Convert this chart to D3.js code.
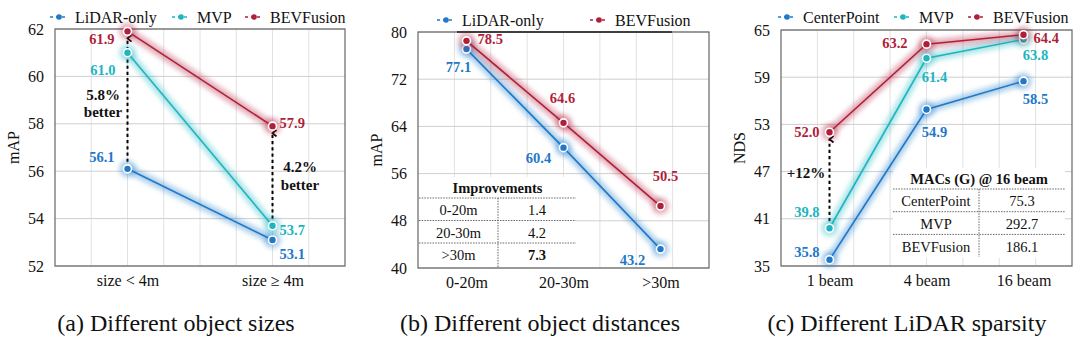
<!DOCTYPE html>
<html>
<head>
<meta charset="utf-8">
<script src="https://cdn.jsdelivr.net/npm/d3@7"></script>
<style>
  body { margin: 0; background: #fff; }
  svg text { font-family: "Liberation Serif", Tinos, "Times New Roman", "DejaVu Serif", serif !important; }
</style>
</head>
<body>
<script>
// --- values ---------------------------------------------------------------
const sizeCats = ["size < 4m", "size \u2265 4m"];
const sizeLidar = [56.1, 53.1];
const sizeMvp = [61.0, 53.7];
const sizeBev = [61.9, 57.9];
const sizeTicks = [52, 54, 56, 58, 60, 62];

const distCats = ["0-20m", "20-30m", ">30m"];
const distLidar = [77.1, 60.4, 43.2];
const distBev = [78.5, 64.6, 50.5];
const distTicks = [40, 48, 56, 64, 72, 80];

const beamCats = ["1 beam", "4 beam", "16 beam"];
const beamCenter = [35.8, 54.9, 58.5];
const beamMvp = [39.8, 61.4, 63.8];
const beamBev = [52.0, 63.2, 64.4];
const beamTicks = [35, 41, 47, 53, 59, 65];

const improvementRows = [["0-20m", "1.4"], ["20-30m", "4.2"], [">30m", "7.3"]];
const macsRows = [["CenterPoint", "75.3"], ["MVP", "292.7"], ["BEVFusion", "186.1"]];

const BLUE = "#1f78c8", TEAL = "#1cb5c0", RED = "#b01f3a";
const SERIF = "'Liberation Serif', Tinos, 'Times New Roman', 'DejaVu Serif', serif";

const width = 1080, height = 345;
const svg = d3.select("body").append("svg")
  .attr("width", width)
  .attr("height", height)
  .attr("font-family", SERIF);

const defs = svg.append("defs");
defs.append("filter").attr("id", "glow")
  .attr("x", "-20%").attr("y", "-20%").attr("width", "140%").attr("height", "140%")
  .append("feGaussianBlur").attr("stdDeviation", 2.6);
defs.append("marker").attr("id", "chev")
  .attr("viewBox", "0 0 10 10").attr("refX", 5).attr("refY", 2)
  .attr("markerWidth", 8).attr("markerHeight", 8)
  .attr("markerUnits", "userSpaceOnUse")
  .attr("orient", "auto-start-reverse")
  .append("path").attr("d", "M1,7 L5,2 L9,7")
  .attr("fill", "none").attr("stroke", "#000").attr("stroke-width", 2.2);

// label offsets: [dx, dy, anchor] per point
function drawPanel(p) {
  const x = d3.scaleLinear().domain(p.xDomain).range([p.left, p.right]);
  const y = d3.scaleLinear().domain([p.ticks[0], p.ticks[p.ticks.length - 1]])
    .range([p.bottom, p.top]);
  const g = svg.append("g");

  // grid
  const vg = d3.range(1, 8).map(k => p.left + (p.right - p.left) * k / 8);
  g.selectAll(".vg").data(vg).join("line")
    .attr("x1", d => d).attr("x2", d => d)
    .attr("y1", p.top).attr("y2", p.bottom)
    .attr("stroke", "#e2e2e2").attr("stroke-width", 1);
  g.selectAll(".hg").data(p.ticks).join("line")
    .attr("x1", p.left).attr("x2", p.right)
    .attr("y1", d => y(d)).attr("y2", d => y(d))
    .attr("stroke", "#cfcfcf").attr("stroke-width", 1);

  // inset table sits under the lines
  if (p.table) drawTable(g, p.table);

  g.append("rect")
    .attr("x", p.left).attr("y", p.top)
    .attr("width", p.right - p.left).attr("height", p.bottom - p.top)
    .attr("fill", "none").attr("stroke", "#666").attr("stroke-width", 1.2);

  // axes
  const ya = g.append("g").attr("transform", `translate(${p.left},0)`)
    .call(d3.axisLeft(y).tickValues(p.ticks).tickSize(0).tickPadding(11));
  ya.attr("font-family", SERIF).select(".domain").remove();
  ya.selectAll("text").attr("font-size", 16).attr("fill", "#111");

  const pos = p.cats.map((c, i) => p.xAt(i));
  const xa = g.append("g").attr("transform", `translate(0,${p.bottom})`)
    .call(d3.axisBottom(x).tickValues(pos).tickFormat((d, i) => p.cats[i])
      .tickSize(0).tickPadding(9));
  xa.attr("font-family", SERIF).select(".domain").remove();
  xa.selectAll("text").attr("font-size", 16).attr("fill", "#111");

  g.append("text")
    .attr("transform", `translate(${p.left - 42},${(p.top + p.bottom) / 2}) rotate(-90)`)
    .attr("text-anchor", "middle")
    .attr("dominant-baseline", "central")
    .attr("font-size", 16).attr("fill", "#111").text(p.yLabel);

  // arrows
  (p.arrows || []).forEach(a => {
    g.append("line")
      .attr("x1", x(p.xAt(a.i))).attr("x2", x(p.xAt(a.i)))
      .attr("y1", y(a.from) - 7).attr("y2", y(a.to) + 7)
      .attr("stroke", "#000").attr("stroke-width", 2)
      .attr("stroke-dasharray", "3.2,3")
      .attr("marker-end", "url(#chev)");
  });

  const line = d3.line().x((d, i) => x(p.xAt(i))).y(d => y(d));

  // glows first, then strokes and markers
  p.series.forEach(s => {
    g.append("path").datum(s.values).attr("d", line)
      .attr("fill", "none").attr("stroke", s.color)
      .attr("stroke-width", 8).attr("stroke-opacity", 0.38)
      .attr("filter", "url(#glow)");
  });
  p.series.forEach(s => {
    g.append("path").datum(s.values).attr("d", line)
      .attr("fill", "none").attr("stroke", s.color).attr("stroke-width", 1.6);
    g.selectAll(null).data(s.values).join("circle")
      .attr("cx", (d, i) => x(p.xAt(i))).attr("cy", d => y(d))
      .attr("r", 8.5).attr("fill", s.color).attr("opacity", 0.35)
      .attr("filter", "url(#glow)");
    g.selectAll(null).data(s.values).join("circle")
      .attr("cx", (d, i) => x(p.xAt(i))).attr("cy", d => y(d))
      .attr("r", 4).attr("fill", s.color)
      .attr("stroke", "#fff").attr("stroke-width", 1.6);
    g.selectAll(null).data(s.values).join("text")
      .attr("x", (d, i) => x(p.xAt(i)) + s.labels[i][0])
      .attr("y", (d, i) => y(d) + s.labels[i][1])
      .attr("text-anchor", (d, i) => s.labels[i][2])
      .attr("dominant-baseline", "central")
      .attr("font-size", 14.5).attr("font-weight", "bold")
      .attr("fill", s.color)
      .text(d => d.toFixed(1));
  });

  (p.notes || []).forEach(n => {
    g.append("text").attr("x", n.x).attr("y", n.y)
      .attr("text-anchor", "middle").attr("dominant-baseline", "central")
      .attr("font-size", 15).attr("font-weight", "bold").attr("fill", "#111")
      .text(n.text);
  });

  // legend
  if (p.legendRule) {
    g.append("line")
      .attr("x1", p.legendRule[0]).attr("x2", p.legendRule[1])
      .attr("y1", p.top).attr("y2", p.top)
      .attr("stroke", "#222").attr("stroke-width", 1.4);
  }
  p.series.forEach((s, i) => {
    const lx = p.legendX[i], ly = p.legendY;
    g.append("line").attr("x1", lx - 9).attr("x2", lx + 9)
      .attr("y1", ly).attr("y2", ly)
      .attr("stroke", s.color).attr("stroke-width", 1.3)
      .attr("stroke-dasharray", "3,3");
    g.append("circle").attr("cx", lx).attr("cy", ly).attr("r", 2.8)
      .attr("fill", s.color);
    g.append("text").attr("x", lx + 16).attr("y", ly)
      .attr("dominant-baseline", "central")
      .attr("font-size", 16).attr("fill", "#111").text(s.name);
  });

  g.append("text").attr("x", p.captionX).attr("y", 323)
    .attr("text-anchor", "middle").attr("dominant-baseline", "central")
    .attr("font-size", 24).attr("fill", "#111").text(p.caption);
}

function drawTable(g, t) {
  g.append("rect").attr("x", t.x0).attr("y", t.titleY - 11)
    .attr("width", t.x1 - t.x0).attr("height", t.bottom - t.titleY + 11)
    .attr("fill", "#fff");
  g.append("text").attr("x", (t.x0 + t.x1) / 2).attr("y", t.titleY)
    .attr("text-anchor", "middle").attr("dominant-baseline", "central")
    .attr("font-size", 14.5).attr("font-weight", "bold").attr("fill", "#111")
    .text(t.title);
  const rowH = t.rowH;
  t.rows.forEach((r, i) => {
    const ry = t.firstLine + rowH * i;
    g.append("line").attr("x1", t.x0).attr("x2", t.x1)
      .attr("y1", ry).attr("y2", ry)
      .attr("stroke", "#555").attr("stroke-width", 0.9)
      .attr("stroke-dasharray", "1.5,1.2");
    g.append("text").attr("x", (t.x0 + t.xDiv) / 2).attr("y", ry + rowH / 2 + 1)
      .attr("text-anchor", "middle").attr("dominant-baseline", "central")
      .attr("font-size", 14.5).attr("fill", "#111").text(r[0]);
    g.append("text").attr("x", (t.xDiv + t.x1) / 2).attr("y", ry + rowH / 2 + 1)
      .attr("text-anchor", "middle").attr("dominant-baseline", "central")
      .attr("font-size", 14.5).attr("fill", "#111")
      .attr("font-weight", i === t.boldRow ? "bold" : "normal").text(r[1]);
  });
  g.append("line").attr("x1", t.xDiv).attr("x2", t.xDiv)
    .attr("y1", t.firstLine).attr("y2", t.divEnd)
    .attr("stroke", "#555").attr("stroke-width", 0.9)
    .attr("stroke-dasharray", "1.5,1.2");
}

// (a) object sizes
drawPanel({
  left: 55, right: 345, top: 29, bottom: 266,
  xDomain: [0, 4], xAt: i => 1 + 2 * i,
  cats: sizeCats, ticks: sizeTicks, yLabel: "mAP",
  series: [
    { name: "LiDAR-only", color: BLUE, values: sizeLidar,
      labels: [[-13, -12, "end"], [7, 14, "start"]] },
    { name: "MVP", color: TEAL, values: sizeMvp,
      labels: [[-12, 17, "end"], [7, 4, "start"]] },
    { name: "BEVFusion", color: RED, values: sizeBev,
      labels: [[-13, 8, "end"], [7, -3, "start"]] }
  ],
  arrows: [{ i: 0, from: sizeLidar[0], to: sizeBev[0] },
           { i: 1, from: sizeMvp[1], to: sizeBev[1] }],
  notes: [{ x: 103, y: 95, text: "5.8%" }, { x: 103, y: 112, text: "better" },
          { x: 300, y: 167, text: "4.2%" }, { x: 300, y: 185, text: "better" }],
  legendX: [59, 181, 254], legendY: 17,
  caption: "(a) Different object sizes", captionX: 176
});

// (b) object distances
drawPanel({
  left: 418, right: 709, top: 32, bottom: 268,
  xDomain: [-0.5, 2.5], xAt: i => i,
  cats: distCats, ticks: distTicks, yLabel: "mAP",
  series: [
    { name: "LiDAR-only", color: BLUE, values: distLidar,
      labels: [[-8, 18, "middle"], [-25, 10, "middle"], [-28, 11, "middle"]] },
    { name: "BEVFusion", color: RED, values: distBev,
      labels: [[11, -2, "start"], [-1, -25, "middle"], [5, -30, "middle"]] }
  ],
  table: { x0: 419, x1: 576, xDiv: 498, titleY: 188, firstLine: 198, rowH: 22.5,
           divEnd: 267, bottom: 267, title: "Improvements", rows: improvementRows, boldRow: 2 },
  legendX: [446, 599], legendY: 20, legendRule: [457, 672],
  caption: "(b) Different object distances", captionX: 540
});

// (c) LiDAR sparsity
drawPanel({
  left: 781, right: 1072, top: 30, bottom: 266,
  xDomain: [-0.5, 2.5], xAt: i => i,
  cats: beamCats, ticks: beamTicks, yLabel: "NDS",
  series: [
    { name: "CenterPoint", color: BLUE, values: beamCenter,
      labels: [[-10, -8, "end"], [8, 23, "middle"], [12, 18, "middle"]] },
    { name: "MVP", color: TEAL, values: beamMvp,
      labels: [[-10, -16, "end"], [8, 19, "middle"], [12, 16, "middle"]] },
    { name: "BEVFusion", color: RED, values: beamBev,
      labels: [[-10, 0, "end"], [-19, -1, "end"], [10, 3, "start"]] }
  ],
  arrows: [{ i: 0, from: beamMvp[0], to: beamBev[0] }],
  notes: [{ x: 806, y: 173, text: "+12%" }],
  table: { x0: 893, x1: 1065, xDiv: 979, titleY: 179, firstLine: 189, rowH: 22.7,
           divEnd: 257, bottom: 258, title: "MACs (G) @ 16 beam", rows: macsRows, boldRow: -1 },
  legendX: [787, 903, 977], legendY: 17,
  caption: "(c) Different LiDAR sparsity", captionX: 907
});
</script>
</body>
</html>
